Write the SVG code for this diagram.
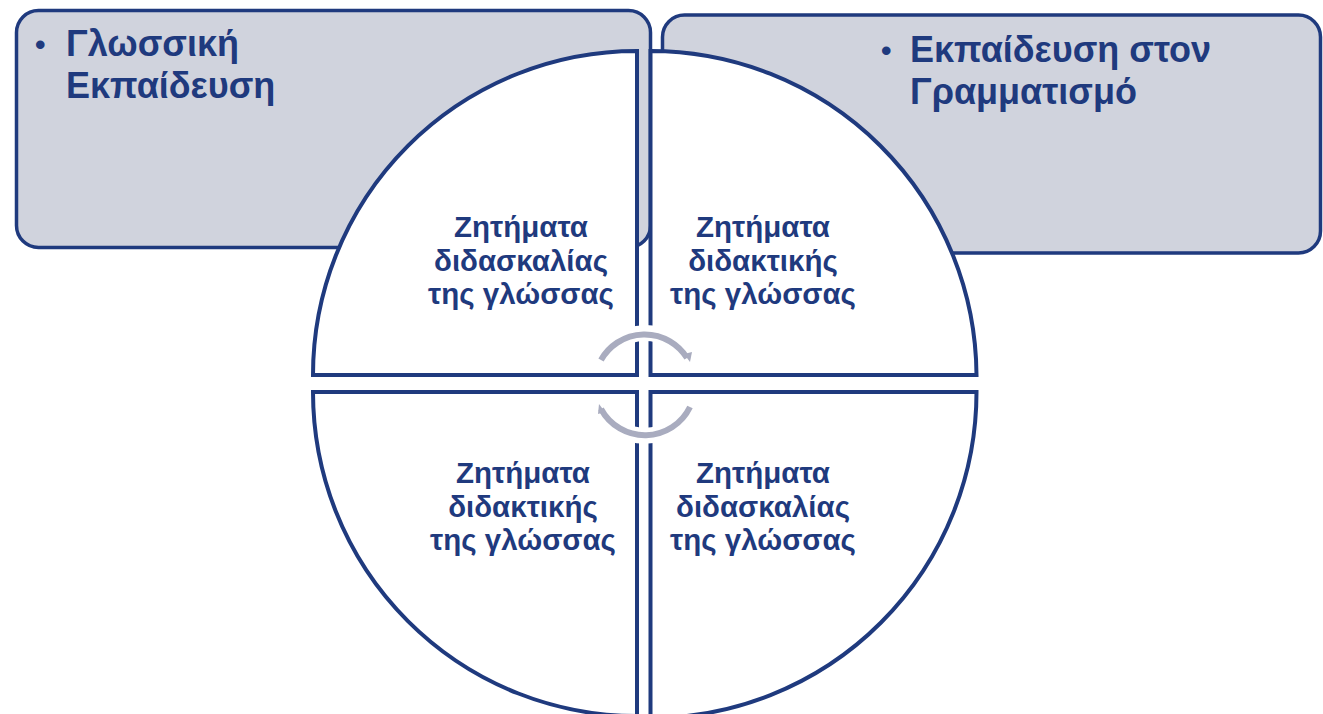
<svg xmlns="http://www.w3.org/2000/svg" width="1323" height="714" viewBox="0 0 1323 714">
<defs>
<style>
.box{fill:#d0d3dd;stroke:#1f3a7e;stroke-width:3.5}
.q{fill:#ffffff;stroke:#1f3a7e;stroke-width:4;stroke-linejoin:miter}
.ht{font-family:"Liberation Sans",Arial,sans-serif;font-weight:bold;font-size:36px;fill:#1f3a7e}
.bul{font-family:"Liberation Sans",Arial,sans-serif;font-weight:bold;font-size:30px;fill:#1f3a7e}
.qt{font-family:"Liberation Sans",Arial,sans-serif;font-weight:bold;font-size:29.5px;fill:#1f3a7e;text-anchor:middle}
.halo{fill:none;stroke:#ffffff;stroke-width:16}
.arc{fill:none;stroke:#a9acbf;stroke-width:6}
.head{fill:#a9acbf}
</style>
</defs>
<rect width="1323" height="714" fill="#ffffff"/>
<g id="box-left">
<rect class="box" x="16.5" y="10.5" width="634" height="237" rx="22"/>
<text class="bul" x="35" y="55">•</text>
<text class="ht" x="66" y="56">Γλωσσική</text>
<text class="ht" x="66" y="98">Εκπαίδευση</text>
</g>
<g id="box-right">
<rect class="box" x="662.5" y="15" width="658" height="238" rx="22"/>
<text class="bul" x="881" y="61">•</text>
<text class="ht" x="910" y="62">Εκπαίδευση στον</text>
<text class="ht" x="910" y="104">Γραμματισμό</text>
</g>
<g id="quad-tl">
<path class="q" d="M637,375 L313,375 A324,324 0 0 1 637,51 Z"/>
<text class="qt" x="521" y="237">Ζητήματα</text>
<text class="qt" x="521" y="271">διδασκαλίας</text>
<text class="qt" x="521" y="304">της γλώσσας</text>
</g>
<g id="quad-tr">
<path class="q" d="M650.5,375 L650.5,51 A326,326 0 0 1 976.5,375 Z"/>
<text class="qt" x="763" y="237">Ζητήματα</text>
<text class="qt" x="763" y="271">διδακτικής</text>
<text class="qt" x="763" y="304">της γλώσσας</text>
</g>
<g id="quad-bl">
<path class="q" d="M637,392 L637,716 A324,324 0 0 1 313,392 Z"/>
<text class="qt" x="523" y="483">Ζητήματα</text>
<text class="qt" x="523" y="517">διδακτικής</text>
<text class="qt" x="523" y="550">της γλώσσας</text>
</g>
<g id="quad-br">
<path class="q" d="M650.5,392 L976.5,392 A326,326 0 0 1 650.5,718 Z"/>
<text class="qt" x="763" y="483">Ζητήματα</text>
<text class="qt" x="763" y="517">διδασκαλίας</text>
<text class="qt" x="763" y="550">της γλώσσας</text>
</g>
<g id="connectors">
<path class="halo" d="M601,360 A50,50 0 0 1 688,357"/>
<path class="halo" d="M690,407 A50,50 0 0 1 600,408"/>
<path class="arc" d="M601,360 A50,50 0 0 1 687,358"/>
<path class="arc" d="M690,407 A50,50 0 0 1 601,409"/>
<polygon class="head" points="684,354 692,352 690,362"/>
<polygon class="head" points="605,412 598,414 599,404"/>
</g>
</svg>
